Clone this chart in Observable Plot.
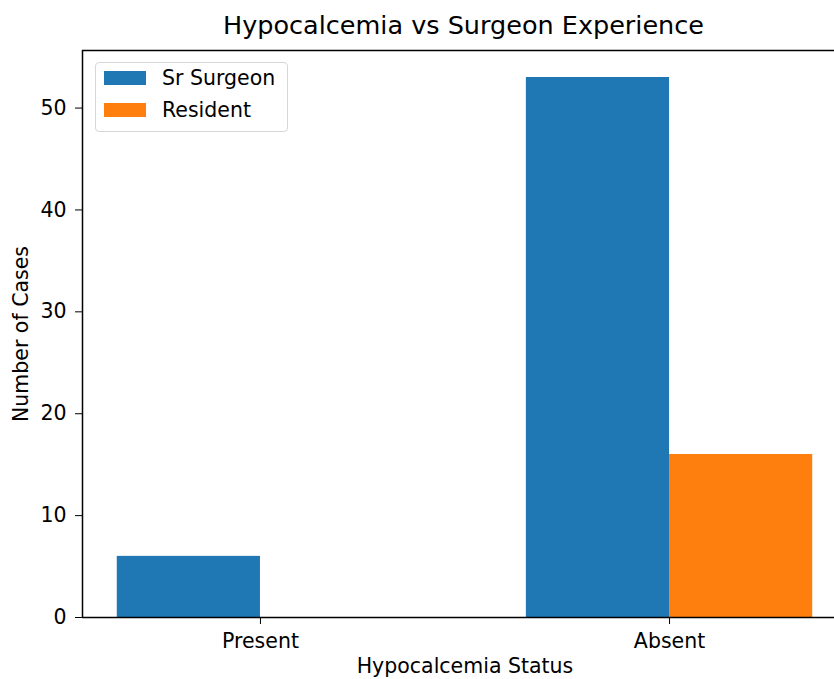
<!DOCTYPE html>
<html>
<head>
<meta charset="utf-8">
<script src="https://cdn.jsdelivr.net/npm/d3@7"></script>
<script src="https://cdn.jsdelivr.net/npm/@observablehq/plot@0.6"></script>
<style>
  body { margin: 0; background: #fff; overflow: hidden; font-family: "DejaVu Sans", sans-serif; }
  #wrap { position: relative; width: 834px; height: 679px; overflow: hidden; }
  #title { height: 45px; box-sizing: border-box; padding-left: 93px; padding-top: 13px; text-align: center;
           font-size: 25.5px; line-height: 25.5px; color: #000; white-space: nowrap; }
  #legend { position: absolute; left: 95px; top: 62px; width: 191px; height: 68px; border: 1px solid #d6d6d6;
            border-radius: 4px; background: rgba(255,255,255,0.8); }
  #legend .sw { position: absolute; left: 8px; width: 42px; height: 14px; }
  #legend .lb { position: absolute; left: 66px; font-size: 20.5px; line-height: 20.5px; color: #000; white-space: nowrap; }
</style>
</head>
<body>
<div id="wrap">
  <div id="title">Hypocalcemia vs Surgeon Experience</div>
  <div id="chart"></div>
  <div id="legend"></div>
</div>
<script>
const groups = ["Present", "Absent"];
const series = ["Sr Surgeon", "Resident"];
const srSurgeon = [6, 53];
const resident = [0, 16];
const yTicks = [0, 10, 20, 30, 40, 50];
const colors = ["#1f77b4", "#ff7f0e"];

const barWidth = 0.35;
const values = [srSurgeon, resident];
const rows = [];
series.forEach((s, si) => {
  groups.forEach((g, gi) => {
    const x1 = gi - barWidth + si * barWidth;
    rows.push({series: s, group: g, x1, x2: x1 + barWidth, value: values[si][gi]});
  });
});

const yMax = d3.max(rows, d => d.value) * 1.05;
const pad = (2 * barWidth + groups.length - 1) * 0.05;
const xMin = -barWidth - pad;
const xMax = groups.length - 1 + barWidth + pad;

const chart = Plot.plot({
  width: 834,
  height: 634,
  marginTop: 5,
  marginBottom: 62,
  marginLeft: 82,
  marginRight: -13,
  style: {fontFamily: "DejaVu Sans, sans-serif", fontSize: "20.5px", color: "#000", background: "white"},
  x: {type: "linear", domain: [xMin, xMax], ticks: groups.map((g, i) => i), tickFormat: i => groups[i],
      tickSize: 7, tickPadding: 9, label: null},
  y: {domain: [0, yMax], ticks: yTicks, tickSize: 7, tickPadding: 9, label: null},
  color: {domain: series, range: colors},
  marks: [
    Plot.rectY(rows, {x1: "x1", x2: "x2", y: "value", fill: "series"}),
    Plot.ruleX([xMin], {stroke: "#000", strokeWidth: 1.5}),
    Plot.ruleY([0, yMax], {stroke: "#000", strokeWidth: 1.5}),
    Plot.text(["Number of Cases"], {frameAnchor: "left", rotate: -90, dx: -61.5, textAnchor: "middle", lineAnchor: "middle", fontSize: 20.5}),
    Plot.text(["Hypocalcemia Status"], {frameAnchor: "bottom", dy: 41, lineAnchor: "top", textAnchor: "middle", fontSize: 20.5})
  ]
});
document.getElementById("chart").appendChild(chart);

const legend = document.getElementById("legend");
series.forEach((s, i) => {
  const sw = document.createElement("div");
  sw.className = "sw";
  sw.style.top = (8 + i * 32) + "px";
  sw.style.background = colors[i];
  legend.appendChild(sw);
  const lb = document.createElement("div");
  lb.className = "lb";
  lb.style.top = (5 + i * 32) + "px";
  lb.textContent = s;
  legend.appendChild(lb);
});
</script>
</body>
</html>
